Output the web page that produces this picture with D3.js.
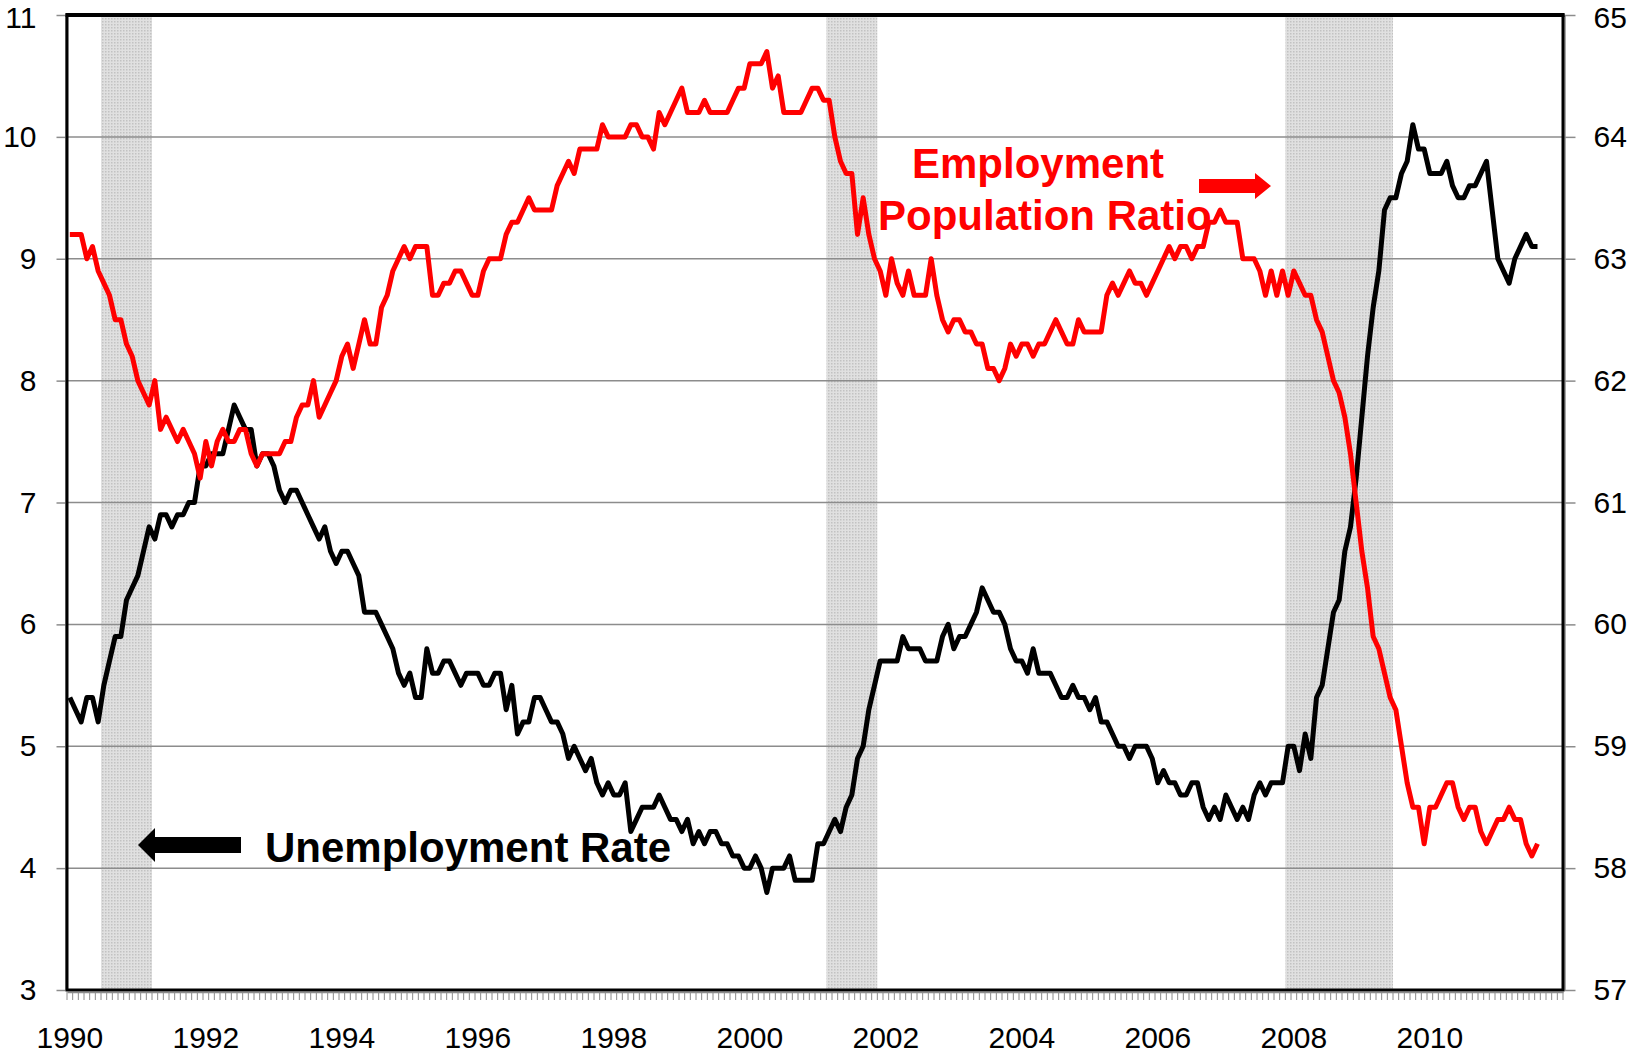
<!DOCTYPE html>
<html>
<head>
<meta charset="utf-8">
<script src="https://cdn.jsdelivr.net/npm/d3@7"></script>
<style>
  body { margin: 0; background: #fff; }
  text { font-family: "Liberation Sans", Arial, sans-serif; }
</style>
</head>
<body>
<div id="chart"></div>
<script>
// monthly, Jan 1990 - Aug 2011
var unemploymentRate = [
  5.4, 5.3, 5.2, 5.4, 5.4, 5.2, 5.5, 5.7, 5.9, 5.9, 6.2, 6.3,
  6.4, 6.6, 6.8, 6.7, 6.9, 6.9, 6.8, 6.9, 6.9, 7.0, 7.0, 7.3,
  7.3, 7.4, 7.4, 7.4, 7.6, 7.8, 7.7, 7.6, 7.6, 7.3, 7.4, 7.4,
  7.3, 7.1, 7.0, 7.1, 7.1, 7.0, 6.9, 6.8, 6.7, 6.8, 6.6, 6.5,
  6.6, 6.6, 6.5, 6.4, 6.1, 6.1, 6.1, 6.0, 5.9, 5.8, 5.6, 5.5,
  5.6, 5.4, 5.4, 5.8, 5.6, 5.6, 5.7, 5.7, 5.6, 5.5, 5.6, 5.6,
  5.6, 5.5, 5.5, 5.6, 5.6, 5.3, 5.5, 5.1, 5.2, 5.2, 5.4, 5.4,
  5.3, 5.2, 5.2, 5.1, 4.9, 5.0, 4.9, 4.8, 4.9, 4.7, 4.6, 4.7,
  4.6, 4.6, 4.7, 4.3, 4.4, 4.5, 4.5, 4.5, 4.6, 4.5, 4.4, 4.4,
  4.3, 4.4, 4.2, 4.3, 4.2, 4.3, 4.3, 4.2, 4.2, 4.1, 4.1, 4.0,
  4.0, 4.1, 4.0, 3.8, 4.0, 4.0, 4.0, 4.1, 3.9, 3.9, 3.9, 3.9,
  4.2, 4.2, 4.3, 4.4, 4.3, 4.5, 4.6, 4.9, 5.0, 5.3, 5.5, 5.7,
  5.7, 5.7, 5.7, 5.9, 5.8, 5.8, 5.8, 5.7, 5.7, 5.7, 5.9, 6.0,
  5.8, 5.9, 5.9, 6.0, 6.1, 6.3, 6.2, 6.1, 6.1, 6.0, 5.8, 5.7,
  5.7, 5.6, 5.8, 5.6, 5.6, 5.6, 5.5, 5.4, 5.4, 5.5, 5.4, 5.4,
  5.3, 5.4, 5.2, 5.2, 5.1, 5.0, 5.0, 4.9, 5.0, 5.0, 5.0, 4.9,
  4.7, 4.8, 4.7, 4.7, 4.6, 4.6, 4.7, 4.7, 4.5, 4.4, 4.5, 4.4,
  4.6, 4.5, 4.4, 4.5, 4.4, 4.6, 4.7, 4.6, 4.7, 4.7, 4.7, 5.0,
  5.0, 4.8, 5.1, 4.9, 5.4, 5.5, 5.8, 6.1, 6.2, 6.6, 6.8, 7.2,
  7.7, 8.2, 8.6, 8.9, 9.4, 9.5, 9.5, 9.7, 9.8, 10.1, 9.9, 9.9,
  9.7, 9.7, 9.7, 9.8, 9.6, 9.5, 9.5, 9.6, 9.6, 9.7, 9.8, 9.4,
  9.0, 8.9, 8.8, 9.0, 9.1, 9.2, 9.1, 9.1
];

var empPopRatio = [
  63.2, 63.2, 63.2, 63.0, 63.1, 62.9, 62.8, 62.7, 62.5, 62.5, 62.3, 62.2,
  62.0, 61.9, 61.8, 62.0, 61.6, 61.7, 61.6, 61.5, 61.6, 61.5, 61.4, 61.2,
  61.5, 61.3, 61.5, 61.6, 61.5, 61.5, 61.6, 61.6, 61.4, 61.3, 61.4, 61.4,
  61.4, 61.4, 61.5, 61.5, 61.7, 61.8, 61.8, 62.0, 61.7, 61.8, 61.9, 62.0,
  62.2, 62.3, 62.1, 62.3, 62.5, 62.3, 62.3, 62.6, 62.7, 62.9, 63.0, 63.1,
  63.0, 63.1, 63.1, 63.1, 62.7, 62.7, 62.8, 62.8, 62.9, 62.9, 62.8, 62.7,
  62.7, 62.9, 63.0, 63.0, 63.0, 63.2, 63.3, 63.3, 63.4, 63.5, 63.4, 63.4,
  63.4, 63.4, 63.6, 63.7, 63.8, 63.7, 63.9, 63.9, 63.9, 63.9, 64.1, 64.0,
  64.0, 64.0, 64.0, 64.1, 64.1, 64.0, 64.0, 63.9, 64.2, 64.1, 64.2, 64.3,
  64.4, 64.2, 64.2, 64.2, 64.3, 64.2, 64.2, 64.2, 64.2, 64.3, 64.4, 64.4,
  64.6, 64.6, 64.6, 64.7, 64.4, 64.5, 64.2, 64.2, 64.2, 64.2, 64.3, 64.4,
  64.4, 64.3, 64.3, 64.0, 63.8, 63.7, 63.7, 63.2, 63.5, 63.2, 63.0, 62.9,
  62.7, 63.0, 62.8, 62.7, 62.9, 62.7, 62.7, 62.7, 63.0, 62.7, 62.5, 62.4,
  62.5, 62.5, 62.4, 62.4, 62.3, 62.3, 62.1, 62.1, 62.0, 62.1, 62.3, 62.2,
  62.3, 62.3, 62.2, 62.3, 62.3, 62.4, 62.5, 62.4, 62.3, 62.3, 62.5, 62.4,
  62.4, 62.4, 62.4, 62.7, 62.8, 62.7, 62.8, 62.9, 62.8, 62.8, 62.7, 62.8,
  62.9, 63.0, 63.1, 63.0, 63.1, 63.1, 63.0, 63.1, 63.1, 63.3, 63.3, 63.4,
  63.3, 63.3, 63.3, 63.0, 63.0, 63.0, 62.9, 62.7, 62.9, 62.7, 62.9, 62.7,
  62.9, 62.8, 62.7, 62.7, 62.5, 62.4, 62.2, 62.0, 61.9, 61.7, 61.4, 61.0,
  60.6, 60.3, 59.9, 59.8, 59.6, 59.4, 59.3, 59.0, 58.7, 58.5, 58.5, 58.2,
  58.5, 58.5, 58.6, 58.7, 58.7, 58.5, 58.4, 58.5, 58.5, 58.3, 58.2, 58.3,
  58.4, 58.4, 58.5, 58.4, 58.4, 58.2, 58.1, 58.2
];

// recession shading, first and last month
var recessions = [
  ["1990-07", "1991-03"],
  ["2001-03", "2001-11"],
  ["2007-12", "2009-06"]
];

var leftTicks = [3, 4, 5, 6, 7, 8, 9, 10, 11];
var rightTicks = [57, 58, 59, 60, 61, 62, 63, 64, 65];
var yearLabels = [1990, 1992, 1994, 1996, 1998, 2000, 2002, 2004, 2006, 2008, 2010];

var W = 1633, H = 1055;
var plot = {left: 67, right: 1563, top: 15, bottom: 990};

var parseMonth = d3.timeParse("%Y-%m");
var months = d3.timeMonth.range(new Date(1990, 0, 1), new Date(2012, 0, 1));

var svg = d3.select("#chart")
  .append("svg")
    .attr("width", W)
    .attr("height", H)
    .style("display", "block");

svg.append("rect").attr("width", W).attr("height", H).attr("fill", "#fff");

// dotted grey fill used by Excel-style recession bars
var pat = svg.append("defs").append("pattern")
    .attr("id", "dots")
    .attr("patternUnits", "userSpaceOnUse")
    .attr("width", 3)
    .attr("height", 3);
pat.append("rect").attr("width", 3).attr("height", 3).attr("fill", "#e0e0e0");
pat.append("rect").attr("width", 1.5).attr("height", 1.5).attr("fill", "#c2c2c2");

var x = d3.scaleBand()
  .domain(months)
  .range([plot.left, plot.right])
  .padding(0);

var yL = d3.scaleLinear().domain([3, 11]).range([plot.bottom, plot.top]);
var yR = d3.scaleLinear().domain([57, 65]).range([plot.bottom, plot.top]);

var xc = function(i) { return x(months[i]) + x.bandwidth() / 2; };

// recession bars
svg.append("g").selectAll("rect")
  .data(recessions)
  .enter().append("rect")
    .attr("x", function(d) { return x(parseMonth(d[0])); })
    .attr("width", function(d) { return x(parseMonth(d[1])) + x.bandwidth() - x(parseMonth(d[0])); })
    .attr("y", plot.top)
    .attr("height", plot.bottom - plot.top)
    .attr("fill", "url(#dots)");

// horizontal gridlines
svg.append("g").selectAll("line")
  .data(leftTicks.slice(1, -1))
  .enter().append("line")
    .attr("x1", plot.left)
    .attr("x2", plot.right)
    .attr("y1", function(d) { return yL(d); })
    .attr("y2", function(d) { return yL(d); })
    .attr("stroke", "#8c8c8c")
    .attr("stroke-width", 1.5);

// left axis
var axL = svg.append("g")
  .attr("transform", "translate(" + (plot.left - 1.5) + ",0)")
  .call(d3.axisLeft(yL).tickValues(leftTicks).tickSize(9).tickSizeOuter(0).tickPadding(20));

// right axis
var axR = svg.append("g")
  .attr("transform", "translate(" + (plot.right + 1.5) + ",0)")
  .call(d3.axisRight(yR).tickValues(rightTicks).tickSize(11).tickSizeOuter(0).tickPadding(18));

// bottom axis: year labels under January
var axB = svg.append("g")
  .attr("transform", "translate(0," + (plot.bottom + 2) + ")")
  .call(d3.axisBottom(x)
    .tickValues(yearLabels.map(function(y) { return new Date(y, 0, 1); }))
    .tickSize(0)
    .tickSizeOuter(0)
    .tickPadding(35)
    .tickFormat(d3.timeFormat("%Y")));

[axL, axR, axB].forEach(function(a) {
  a.selectAll("text").attr("font-size", 30).attr("fill", "#000").style("font-family", '"Liberation Sans", Arial, sans-serif');
  a.selectAll("line").attr("stroke", "#8c8c8c").attr("stroke-width", 1.5);
  a.select(".domain").attr("stroke", "#8c8c8c").attr("stroke-width", 1.5);
});

// keep the top labels inside the page
axL.selectAll(".tick text").filter(function(d) { return d === 11; }).attr("dy", "0.42em");
axR.selectAll(".tick text").filter(function(d) { return d === 65; }).attr("dy", "0.42em");

// monthly minor ticks on the category boundaries
svg.append("g").selectAll("line")
  .data(months.concat([null]))
  .enter().append("line")
    .attr("x1", function(d) { return d ? x(d) : plot.right; })
    .attr("x2", function(d) { return d ? x(d) : plot.right; })
    .attr("y1", plot.bottom + 2)
    .attr("y2", plot.bottom + 10)
    .attr("stroke", "#8c8c8c")
    .attr("stroke-width", 1);

// plot frame
svg.append("rect")
  .attr("x", plot.left)
  .attr("y", plot.top)
  .attr("width", plot.right - plot.left)
  .attr("height", plot.bottom - plot.top)
  .attr("fill", "none")
  .attr("stroke", "#000")
  .attr("stroke-width", 3);
svg.append("line")
  .attr("x1", plot.left - 1.5).attr("x2", plot.right + 1.5)
  .attr("y1", plot.top).attr("y2", plot.top)
  .attr("stroke", "#000").attr("stroke-width", 4);

// lines
var lineL = d3.line()
  .x(function(d, i) { return xc(i); })
  .y(function(d) { return yL(d); });
var lineR = d3.line()
  .x(function(d, i) { return xc(i); })
  .y(function(d) { return yR(d); });

svg.append("path")
  .datum(unemploymentRate)
  .attr("fill", "none")
  .attr("stroke", "#000")
  .attr("stroke-width", 5)
  .attr("stroke-linejoin", "round")
  .attr("d", lineL);

svg.append("path")
  .datum(empPopRatio)
  .attr("fill", "none")
  .attr("stroke", "#ff0000")
  .attr("stroke-width", 5)
  .attr("stroke-linejoin", "round")
  .attr("d", lineR);

// annotations
var notes = svg.append("g")
  .attr("font-size", 42)
  .attr("font-weight", "bold");

notes.append("text")
  .attr("x", 912).attr("y", 178)
  .attr("fill", "#ff0000")
  .text("Employment");
notes.append("text")
  .attr("x", 878).attr("y", 230)
  .attr("fill", "#ff0000")
  .text("Population Ratio");
notes.append("text")
  .attr("x", 265).attr("y", 862)
  .attr("fill", "#000")
  .text("Unemployment Rate");

// arrows
svg.append("path")
  .attr("d", "M1199,179 L1255,179 L1255,173 L1271,186 L1255,199 L1255,193 L1199,193 Z")
  .attr("fill", "#ff0000");
svg.append("path")
  .attr("d", "M241,837 L155,837 L155,828 L138,845 L155,862 L155,853 L241,853 Z")
  .attr("fill", "#000");
</script>
</body>
</html>
